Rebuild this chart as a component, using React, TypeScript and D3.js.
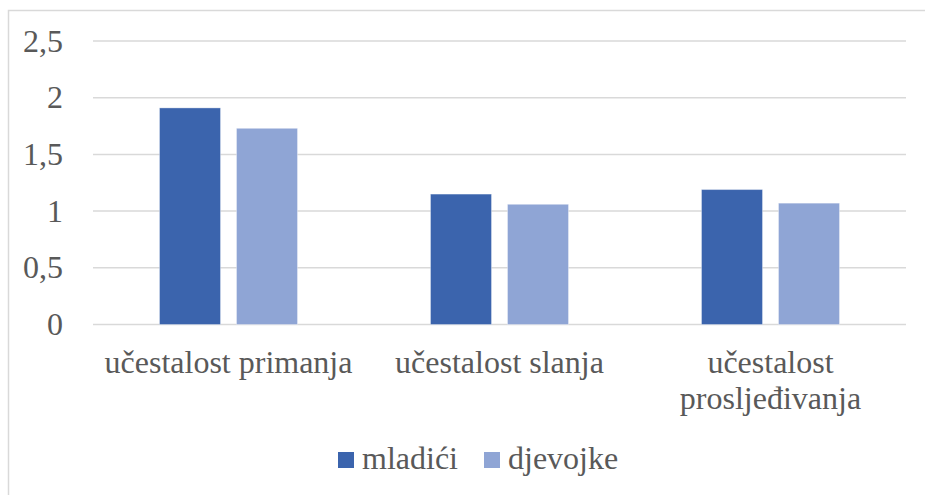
import React from 'react'
import * as d3 from 'd3'

// data
const categories = ['učestalost primanja', 'učestalost slanja', 'učestalost prosljeđivanja']
const categoryLines = [['učestalost primanja'], ['učestalost slanja'], ['učestalost', 'prosljeđivanja']]
const seriesNames = ['mladići', 'djevojke']
const mladici = [1.91, 1.15, 1.19]
const djevojke = [1.73, 1.06, 1.07]
const yTicks = [0, 0.5, 1, 1.5, 2, 2.5]
const yTickLabels = ['0', '0,5', '1', '1,5', '2', '2,5']

const colors = ['#3B64AD', '#8FA5D5']
const textColor = '#595959'
const textStyle = { fontFamily: 'Liberation Serif' }
const fontSize = 32

const width = 925
const height = 495
const left = 93
const right = 906
const top = 41
const bottom = 324.5
const groupWidth = 138

function App () {
  const y = d3.scaleLinear().domain([0, 2.5]).range([bottom, top])
  const x0 = d3.scaleBand().domain(categories).range([left, right])
  const x1 = d3.scaleBand().domain(seriesNames).range([0, groupWidth]).paddingInner(16 / 77)
  const values = [mladici, djevojke]
  const legendX = [338, 484]

  return (
    <svg
      width={width}
      height={height}
      style={{ position: 'absolute', left: 0, top: 0, background: '#fff' }}
    >
      {/* chart area border */}
      <rect x={8.5} y={10.5} width={width + 20} height={height + 20} fill='#fff' stroke='#D9D9D9' strokeWidth={1.5} />

      {/* gridlines */}
      {yTicks.map(t => (
        <line key={t} x1={left} x2={right} y1={y(t)} y2={y(t)} stroke='#D9D9D9' strokeWidth={1.5} />
      ))}

      {/* y tick labels */}
      {yTicks.map((t, i) => (
        <text key={t} x={63} y={y(t) + 10.5} textAnchor='end' style={textStyle} fontSize={fontSize} fill={textColor}>
          {yTickLabels[i]}
        </text>
      ))}

      {/* bars */}
      {seriesNames.map((s, si) => (
        <g key={s}>
          {categories.map((c, ci) => (
            <rect
              key={c}
              x={(x0(c) as number) + (x0.bandwidth() - groupWidth) / 2 + (x1(s) as number)}
              y={y(values[si][ci])}
              width={x1.bandwidth()}
              height={y(0) - y(values[si][ci])}
              fill={colors[si]}
              stroke='rgba(255,255,255,0.35)'
              strokeWidth={1}
            />
          ))}
        </g>
      ))}

      {/* category labels */}
      {categories.map((c, ci) => {
        const cx = (x0(c) as number) + x0.bandwidth() / 2
        return categoryLines[ci].map((line, li) => (
          <text key={c + li} x={cx} y={373 + li * 36} textAnchor='middle' style={textStyle} fontSize={fontSize} fill={textColor}>
            {line}
          </text>
        ))
      })}

      {/* legend */}
      {seriesNames.map((s, i) => (
        <g key={s}>
          <rect x={legendX[i]} y={452} width={16} height={16} fill={colors[i]} />
          <text x={legendX[i] + 24} y={469} style={textStyle} fontSize={fontSize} fill={textColor}>{s}</text>
        </g>
      ))}
    </svg>
  )
}

export default App
